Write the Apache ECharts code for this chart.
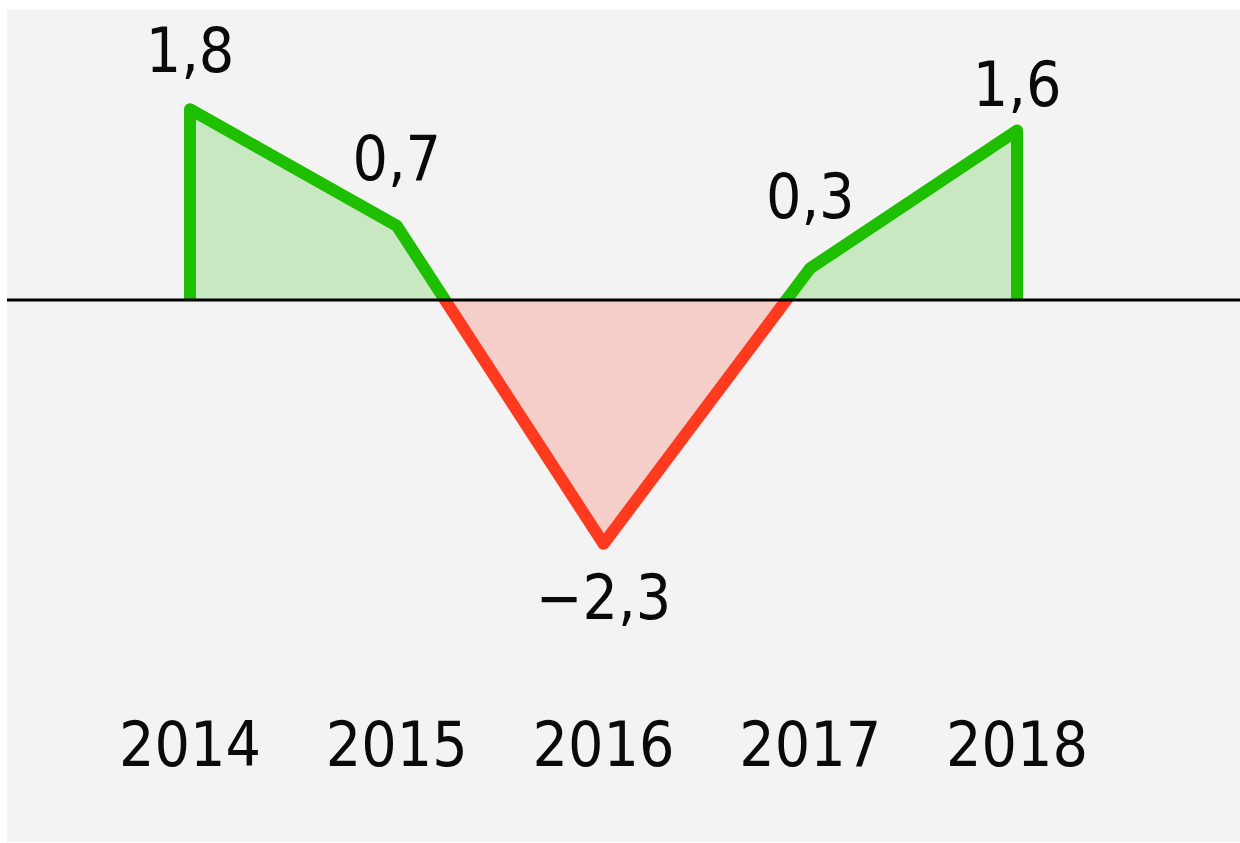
<!DOCTYPE html>
<html>
<head>
<meta charset="utf-8">
<script src="https://cdn.jsdelivr.net/npm/echarts@6/dist/echarts.min.js"></script>
<style>
  html, body { margin: 0; padding: 0; background: #ffffff; width: 1240px; height: 843px; overflow: hidden; }
  #chart { position: absolute; left: 7px; top: 10px; width: 1233px; height: 832px; background: #f3f3f3; }
</style>
</head>
<body>
<div id="chart"></div>
<script>
// ---- data ----
const years = ['2014', '2015', '2016', '2017', '2018'];
const values = [1.8, 0.7, -2.3, 0.3, 1.6];
// ---- label vertical lifts (style) ----
const labelLift = [53, 62, -59, 66, 41];

const GREEN = '#1ebe00';
const RED = '#ff3a1f';
const FONT = "'DejaVu Sans Condensed', 'Noto Sans', sans-serif";
const Y_MIN = -3.5, Y_MAX = 2.5;

const fmt = v => String(v).replace('.', ',').replace('-', '\u2212');

const seriesData = values.map((v, i) => ({
  value: v,
  label: { offset: [0, -labelLift[i]] }
}));

const edgeLines = [0, values.length - 1].map(i => [
  { coord: [years[i], 0] },
  { coord: [years[i], values[i]] }
]);

const chart = echarts.init(document.getElementById('chart'));
chart.setOption({
  animation: false,
  backgroundColor: '#f3f3f3',
  grid: { left: 79.6, right: 119.6, top: 25, bottom: 171 },
  xAxis: {
    type: 'category',
    data: years,
    boundaryGap: true,
    axisLine: { show: false },
    axisTick: { show: false },
    splitLine: { show: false },
    axisLabel: { color: '#0a0a0a', fontSize: 62, fontFamily: FONT, margin: 48 }
  },
  yAxis: {
    type: 'value',
    min: Y_MIN,
    max: Y_MAX,
    show: false,
    splitLine: { show: false }
  },
  series: [{
    type: 'line',
    data: seriesData,
    symbol: 'circle',
    symbolSize: 0,
    showSymbol: true,
    itemStyle: { color: GREEN },
    lineStyle: { width: 12, join: 'round', cap: 'round', color: GREEN },
    areaStyle: { opacity: 0.2, color: GREEN },
    label: {
      show: true,
      position: 'inside',
      color: '#0a0a0a',
      fontSize: 62,
      fontFamily: FONT,
      formatter: p => fmt(p.value)
    },
    markLine: {
      silent: true,
      symbol: 'none',
      animation: false,
      label: { show: false },
      lineStyle: { color: GREEN, width: 12, type: 'solid', cap: 'butt' },
      data: edgeLines
    }
  }]
});

const yTop = chart.convertToPixel({ yAxisIndex: 0 }, Y_MAX);
const yBot = chart.convertToPixel({ yAxisIndex: 0 }, Y_MIN);
const y0 = chart.convertToPixel({ yAxisIndex: 0 }, 0);
const f = (y0 - yTop) / (yBot - yTop);
const makeGrad = () => new echarts.graphic.LinearGradient(0, yTop, 0, yBot, [
  { offset: 0, color: GREEN },
  { offset: f, color: GREEN },
  { offset: f, color: RED },
  { offset: 1, color: RED }
], true);

chart.setOption({
  series: [{
    lineStyle: { color: makeGrad() },
    areaStyle: { color: makeGrad(), opacity: 0.2 }
  }],
  graphic: [{
    type: 'line',
    z: 100,
    shape: { x1: 0, y1: y0, x2: 1233, y2: y0 },
    style: { stroke: '#000', lineWidth: 3 }
  }]
});
</script>
</body>
</html>
